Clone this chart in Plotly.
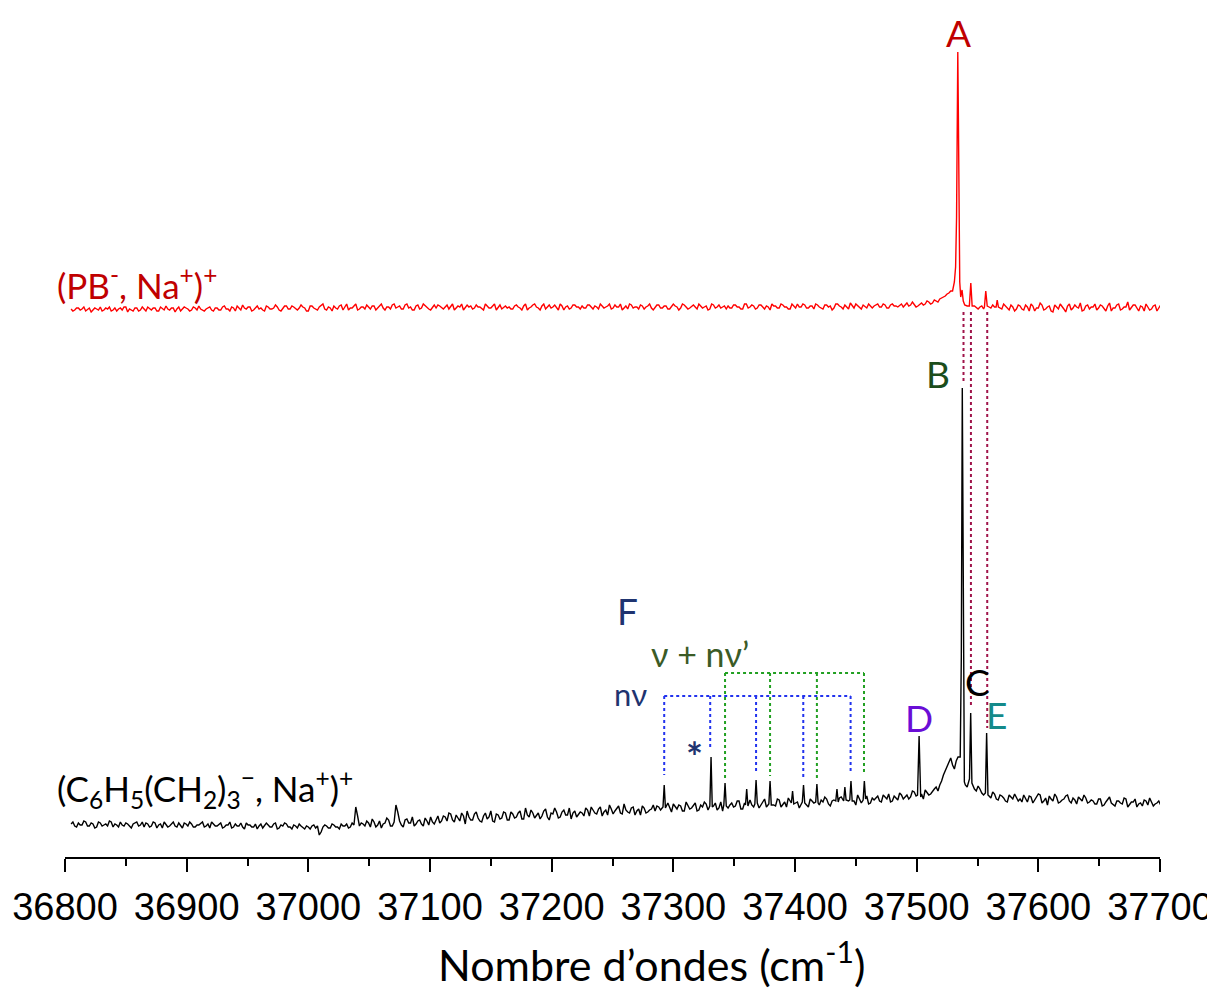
import plotly.graph_objects as go

# ---------------- data (intensities in arbitrary units) ----------------
GRID_START = 36805
GRID_STEP = 3
MID_START = 36806.5

black_grid_y = [
    33,31,34,32,35,31,33,30,34,32,31,35,33,30,32,34,31,33,35,32,
    30,33,31,34,32,29,33,31,35,30,32,34,31,33,30,32,35,31,29,33,
    31,34,30,32,29,33,31,30,34,32,30,28,33,31,32,30,34,29,31,33,
    30,32,29,31,28,30,31,29,22,30,31,29,32,30,33,31,29,34,50,31,
    33,36,30,35,32,29,34,37,31,52,36,30,38,34,31,36,33,39,32,35,
    38,34,41,36,43,35,39,44,33,40,37,45,36,41,38,46,35,42,39,44,
    37,43,40,46,38,42,47,39,44,41,48,37,43,45,40,47,42,38,46,43,
    44,49,41,47,43,50,45,42,48,46,51,43,47,44,50,46,42,49,45,48,
    46,50,52,47,49,53,48,51,46,52,49,54,47,50,53,48,51,47,55,50,
    49,54,51,56,48,53,57,50,55,52,58,49,54,51,57,53,50,56,52,55,
    53,57,50,56,59,52,55,58,51,57,54,60,53,56,59,52,58,55,61,54,
    57,61,55,60,63,56,59,64,58,62,60,65,59,63,67,62,66,70,72,82,
    90,99,88,100,105,72,80,75,66,68,62,70,59,63,57,61,56,62,58,60,
    58,62,55,60,57,63,54,59,61,56,60,55,58,62,54,57,60,56,59,55,
    56,53,58,52,57,54,51,56,53,58,52,55,50,54,57,52,55,53,56,
]

black_mid_y = [
    35,30,32,36,31,34,29,35,31,33,36,30,32,35,31,33,29,34,31,35,
    34,30,35,29,33,35,30,33,31,34,29,33,35,30,32,34,30,33,35,31,
    33,29,32,35,30,31,34,28,32,30,33,31,29,34,30,33,28,32,34,30,
    28,31,33,29,31,28,32,31,25,32,29,33,30,28,31,33,30,32,41,34,
    31,34,38,30,36,33,39,31,35,45,32,37,34,40,33,37,31,36,40,33,
    41,36,40,44,37,42,36,41,46,37,43,39,35,44,40,36,43,38,45,37,
    45,39,44,38,49,40,44,42,38,46,40,44,49,39,45,42,49,44,40,45,
    41,47,50,44,48,41,47,52,43,49,44,53,45,49,42,48,51,44,47,52,
    51,47,49,54,45,50,52,46,55,48,51,46,52,55,47,51,54,49,46,53,
    52,50,56,48,54,51,52,57,49,54,50,55,52,58,50,55,59,51,54,49,
    56,52,58,54,51,57,60,53,56,52,59,55,57,51,56,62,54,57,53,59,
    59,56,62,58,55,61,57,62,60,58,66,61,64,58,65,63,68,66,76,86,
    95,92,96,104,100,70,90,68,71,64,80,61,65,58,62,59,55,60,63,56,
    55,59,61,54,59,62,56,52,58,63,54,57,61,56,59,53,58,62,54,57,
    53,58,51,55,60,52,56,54,59,50,55,58,53,51,56,59,51,54,52,
]

red_grid_y = [
    548,547,549,548,546,549,547,548,550,547,548,546,549,548,547,550,548,546,549,547,
    548,550,547,549,546,548,551,547,549,548,546,550,548,547,549,551,547,548,550,546,
    549,547,551,548,550,546,549,552,548,550,547,551,549,546,550,548,552,547,549,551,
    548,550,547,552,549,546,551,548,550,553,547,549,551,548,552,550,547,549,553,548,
    550,552,548,551,549,553,547,550,552,549,551,548,553,550,547,552,549,551,548,550,
    549,551,548,552,550,547,551,553,549,550,548,552,550,547,551,549,553,550,548,551,
    550,548,552,549,551,547,550,553,549,551,548,552,550,549,553,547,551,549,552,550,
    551,549,552,548,550,553,549,551,548,552,550,547,551,553,549,550,552,548,551,549,
    550,552,549,551,548,553,550,549,552,548,551,550,553,549,551,548,552,550,549,551,
    551,549,552,550,548,553,550,551,549,552,548,550,553,551,549,552,550,548,551,553,
    550,552,549,551,553,550,548,552,551,549,553,550,552,548,551,553,550,552,549,551,
    551,553,550,552,549,553,551,552,550,554,552,553,551,554,553,555,554,556,558,560,
    563,566,575,600,560,553,552,550,549,550,548,551,549,550,553,548,551,547,550,548,
    551,547,550,553,546,549,552,548,551,545,550,553,548,551,547,552,549,546,551,548,
    550,547,552,548,551,546,549,553,548,550,547,552,549,551,546,550,548,552,549,
]

red_mid_y = [
    546,549,547,550,548,545,549,547,546,549,550,547,546,549,550,545,547,549,546,550,
    546,548,549,546,550,547,548,549,545,550,548,549,546,550,547,548,546,549,547,549,
    547,550,548,546,549,551,547,549,550,546,549,548,547,551,548,549,550,546,551,548,
    551,548,549,550,546,551,549,547,552,548,550,546,549,551,547,553,549,551,547,550,
    548,550,551,547,552,549,550,548,553,550,548,552,549,547,551,548,553,550,547,552,
    552,549,550,548,553,549,550,547,552,551,549,550,548,553,549,551,547,552,550,549,
    548,551,550,547,553,549,552,550,547,553,550,549,552,547,551,550,548,552,550,548,
    549,552,550,551,548,551,550,553,549,550,553,549,548,552,550,548,551,550,553,547,
    552,549,551,548,550,551,547,553,550,549,552,548,551,550,547,553,549,552,550,548,
    549,552,550,548,553,549,552,548,552,550,551,547,551,549,553,550,548,553,549,550,
    553,549,551,548,552,549,552,550,547,553,551,548,550,554,549,551,548,550,553,549,
    552,550,553,549,552,551,550,553,552,551,555,550,553,552,556,553,557,555,559,561,
    564,570,580,600,560,551,560,551,548,551,560,550,552,555,549,553,549,552,546,552,
    548,552,546,551,549,554,547,550,546,552,548,551,545,553,549,550,554,547,552,550,
    553,549,551,546,554,549,552,547,550,555,549,552,546,550,553,547,551,546,552,
]

# peaks of the black spectrum (C6H5(CH2)3-, Na+)+ : lists of (wavenumber, intensity)
black_peaks = [
    [(37291.5, 50), (37292.5, 72), (37293.5, 49)],
    [(37330.0, 51), (37331.0, 100), (37332.0, 50)],
    [(37341.5, 52), (37342.5, 74), (37343.5, 51)],
    [(37359.3, 52), (37360.3, 68), (37361.3, 51)],
    [(37367.0, 53), (37368.0, 77), (37369.0, 54)],
    [(37378.5, 53), (37379.5, 76), (37380.5, 52)],
    [(37397.0, 54), (37398.0, 66), (37399.0, 53)],
    [(37406.0, 55), (37407.0, 72), (37408.0, 54)],
    [(37417.0, 55), (37418.0, 73), (37419.0, 54)],
    [(37433.5, 56), (37434.5, 68), (37435.5, 55)],
    [(37440.0, 56), (37441.0, 70), (37442.0, 57)],
    [(37445.0, 57), (37446.0, 76), (37447.0, 56)],
    [(37456.0, 57), (37457.0, 76), (37458.0, 58)],
    [(37500.7, 62), (37502.0, 121), (37503.3, 60)],
    [(37535.8, 100), (37536.7, 200), (37537.5, 469), (37538.3, 180), (37539.2, 75)],
    [(37543.4, 78), (37544.4, 144), (37545.4, 74)],
    [(37556.5, 64), (37557.5, 124), (37558.6, 62)],
]

# peaks of the red spectrum (PB-, Na+)+
red_peaks = [
    [(37529.5, 566), (37531.0, 575), (37532.0, 590), (37532.8, 640), (37533.3, 720),
     (37533.8, 805), (37534.3, 740), (37534.8, 620), (37535.4, 575), (37536.2, 560),
     (37537.3, 567), (37538.3, 556), (37539.5, 552)],
    [(37543.3, 551), (37544.5, 574), (37545.6, 551)],
    [(37555.7, 550), (37556.8, 566), (37558.0, 551)],
    [(37565.3, 550), (37566.2, 557), (37567.2, 550)],
]

# vibrational progressions (F)
nu_prog_x = [37292.5, 37330.3, 37368.0, 37406.8, 37445.7]
nu_prog_bottom = [82, 107, 84, 79, 84]
nu_level = 161
nunu_prog_x = [37342.5, 37379.5, 37418.0, 37456.7]
nunu_prog_bottom = [76, 81, 79, 83]
nunu_level = 184

# correspondences red -> black
link_x = [37538.5, 37544.6, 37558.0]
link_top = 545
link_bottom = [474, 152, 129]

tick_vals = [36800, 36900, 37000, 37100, 37200, 37300, 37400, 37500, 37600, 37700]


def build(grid_y, mid_y, peaks):
    pts = []
    windows = [(min(p[0] for p in pk) - 0.6, max(p[0] for p in pk) + 0.6) for pk in peaks]
    for start, ys in ((GRID_START, grid_y), (MID_START, mid_y)):
        for i, y in enumerate(ys):
            x = start + GRID_STEP * i
            if any(a <= x <= b for a, b in windows):
                continue
            pts.append((x, y))
    for pk in peaks:
        pts.extend(pk)
    pts.sort()
    return [p[0] for p in pts], [p[1] for p in pts]


bx, by = build(black_grid_y, black_mid_y, black_peaks)
rx, ry = build(red_grid_y, red_mid_y, red_peaks)

fig = go.Figure()
fig.add_trace(go.Scatter(x=rx, y=ry, mode="lines", line=dict(color="#FF0000", width=1.4),
                         showlegend=False, hoverinfo="skip"))
fig.add_trace(go.Scatter(x=bx, y=by, mode="lines", line=dict(color="#000000", width=1.4),
                         showlegend=False, hoverinfo="skip"))

shapes = []
blue = "#2233EE"
green = "#22A022"
crimson = "#A0144A"
shapes.append(dict(type="line", x0=nu_prog_x[0], x1=nu_prog_x[-1], y0=nu_level, y1=nu_level,
                   line=dict(color=blue, width=2, dash="dot")))
for x, yb in zip(nu_prog_x, nu_prog_bottom):
    shapes.append(dict(type="line", x0=x, x1=x, y0=nu_level, y1=yb,
                       line=dict(color=blue, width=2, dash="dot")))
shapes.append(dict(type="line", x0=nunu_prog_x[0], x1=nunu_prog_x[-1], y0=nunu_level, y1=nunu_level,
                   line=dict(color=green, width=2, dash="dot")))
for x, yb in zip(nunu_prog_x, nunu_prog_bottom):
    shapes.append(dict(type="line", x0=x, x1=x, y0=nunu_level, y1=yb,
                       line=dict(color=green, width=2, dash="dot")))
for x, yb in zip(link_x, link_bottom):
    shapes.append(dict(type="line", x0=x, x1=x, y0=link_top, y1=yb,
                       line=dict(color=crimson, width=2, dash="dot")))

LF = "Lato"
ann = []


def label(text, x, y, color, size, xanchor="center", bold=False, xref="x", yref="y"):
    ann.append(dict(text=("<b>%s</b>" % text) if bold else text, x=x, y=y, xref=xref, yref=yref,
                    showarrow=False, xanchor=xanchor, yanchor="middle",
                    font=dict(family=LF, size=size, color=color)))


label("A", 37534, 825, "#C00000", 37)
label("(PB<sup>-</sup>, Na<sup>+</sup>)<sup>+</sup>", -0.0092, 574, "#C00000", 35,
      xanchor="left", xref="paper")
label("(C<sub>6</sub>H<sub>5</sub>(CH<sub>2</sub>)<sub>3</sub><sup>\u2212</sup>, Na<sup>+</sup>)<sup>+</sup>",
      -0.0092, 69, "#000000", 35, xanchor="left", xref="paper")
label("B", 37517.5, 484, "#1B4D1B", 37)
label("C", 37549.6, 176, "#000000", 37)
label("D", 37501.9, 140, "#6A0DD6", 37)
label("E", 37566.0, 143, "#148A8A", 37)
label("F", 37262.7, 247, "#1F3470", 37)
label("\u03bd + n\u03bd\u2019", 37321.9, 204, "#3B5B26", 34)
label("n\u03bd", 37265.2, 163, "#1F3470", 31)
label("*", 37317.8, 100, "#1F3470", 40, bold=True)
# axis title (off-centre to the right, as in the reference)
label("Nombre d\u2019ondes (cm<sup>-1</sup>)", 0.536, -0.1225, "#000000", 43,
      xref="paper", yref="paper")

# the page adds an 8px body margin: the figure is sized so the plot lands on the reference pixels
fig.update_layout(
    width=1207, height=980,
    margin=dict(l=57, r=55, t=0, b=131),
    paper_bgcolor="white", plot_bgcolor="white",
    shapes=shapes, annotations=ann,
    showlegend=False,
    xaxis=dict(range=[36800, 37700], tickvals=tick_vals, ticktext=[str(v) for v in tick_vals],
               automargin=False,
               showline=True, linecolor="black", linewidth=2, showgrid=False, zeroline=False,
               ticks="outside", ticklen=13, tickwidth=2, tickcolor="black",
               minor=dict(ticks="outside", ticklen=7, tickwidth=2, tickcolor="black", dtick=50,
                          showgrid=False),
               ticklabelstandoff=2,
               tickfont=dict(family="Liberation Sans", size=38, color="black")),
    yaxis=dict(range=[0, 849], visible=False, fixedrange=True, automargin=False),
)

fig.write_html("out.html")
